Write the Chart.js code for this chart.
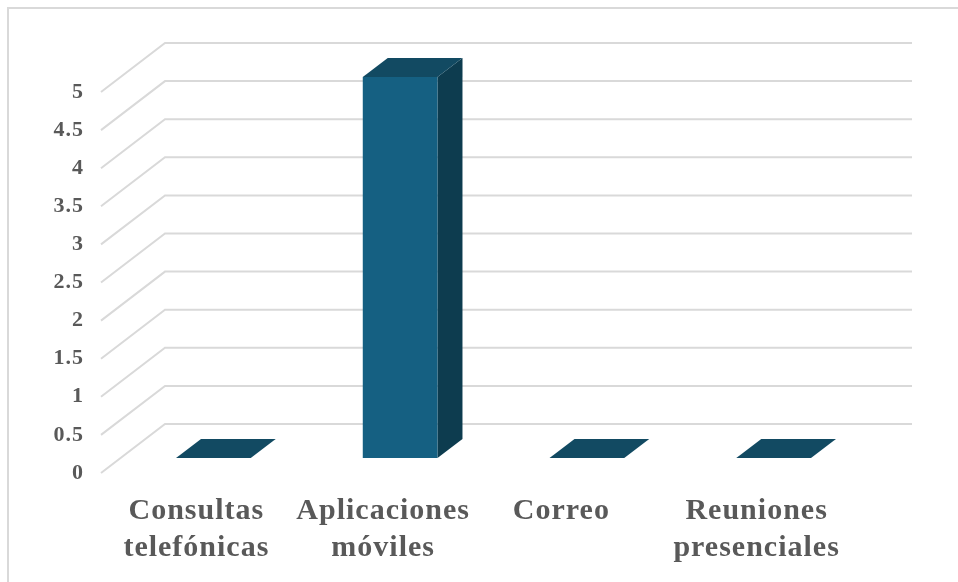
<!DOCTYPE html>
<html><head><meta charset="utf-8">
<script src="https://cdn.jsdelivr.net/npm/chart.js@4"></script>
<style>html,body{margin:0;padding:0;background:#fff;overflow:hidden}
#wrap{position:relative;width:958px;height:582px}
#frame{position:absolute;left:7px;top:7px;right:0;bottom:0;border-left:2px solid #d9d9d9;border-top:2px solid #d9d9d9}
canvas{position:absolute;left:0;top:0}</style></head>
<body><div id="wrap"><div id="frame"></div><canvas id="c" width="958" height="582"></canvas></div>
<script>
const categories = [["Consultas","telefónicas"],["Aplicaciones","móviles"],["Correo  "],["Reuniones","presenciales"]];
const values = [0,5,0,0];
const seriesName = "Serie 1";
const tickStep = 0.5;
const yMax = 5;
const colors = {front:"#156082",top:"#124a62",side:"#0d3c4f",grid:"#d9d9d9",text:"#595959"};
const wallDepth = {dx:64,dy:-49};
const barOffset = {dx:19,dy:-15};
const barDepth = {dx:25,dy:-19};

const pseudo3d = {
  id:"pseudo3d",
  beforeDraw(chart){ chart.ctx.letterSpacing = "1px"; },
  beforeDatasetsDraw(chart){
    const {ctx,scales:{x,y}} = chart;
    ctx.save();
    ctx.strokeStyle = colors.grid; ctx.lineWidth = 2;
    for(let v=0;v<=yMax;v+=tickStep){
      const py = y.getPixelForValue(v);
      ctx.beginPath();
      ctx.moveTo(x.left,py);
      ctx.lineTo(x.left+wallDepth.dx,py+wallDepth.dy);
      ctx.lineTo(x.right+wallDepth.dx,py+wallDepth.dy);
      ctx.stroke();
    }
    ctx.translate(barOffset.dx,barOffset.dy);
    chart.getDatasetMeta(0).data.forEach(b=>{
      const {x:bx,y:by,base,width} = b.getProps(["x","y","base","width"],true);
      const l=bx-width/2,r=bx+width/2,d=barDepth;
      ctx.fillStyle = colors.side;
      ctx.beginPath();ctx.moveTo(r,by);ctx.lineTo(r+d.dx,by+d.dy);ctx.lineTo(r+d.dx,base+d.dy);ctx.lineTo(r,base);ctx.closePath();ctx.fill();
      ctx.fillStyle = colors.top;
      ctx.beginPath();ctx.moveTo(l,by);ctx.lineTo(l+d.dx,by+d.dy);ctx.lineTo(r+d.dx,by+d.dy);ctx.lineTo(r,by);ctx.closePath();ctx.fill();
    });
  },
  afterDatasetsDraw(chart){ chart.ctx.restore(); }
};

new Chart(document.getElementById("c"),{
  type:"bar",
  data:{labels:categories,datasets:[{label:seriesName,data:values,backgroundColor:colors.front,borderWidth:0,clip:false,barPercentage:0.4,categoryPercentage:1}]},
  plugins:[pseudo3d],
  options:{
    responsive:false,animation:false,devicePixelRatio:1,
    layout:{padding:{top:92,right:110,left:0,bottom:0}},
    plugins:{legend:{display:false},tooltip:{enabled:false},title:{display:false}},
    scales:{
      x:{grid:{display:false},border:{display:false},
         afterFit(s){s.height=582-473;},
         ticks:{color:colors.text,padding:12,labelOffset:2,maxRotation:0,autoSkip:false,font:{family:"'Liberation Serif'",weight:"bold",size:30,lineHeight:1.23}}},
      y:{min:0,max:yMax,grid:{display:false},border:{display:false},
         afterFit(s){s.width=101;},
         ticks:{stepSize:tickStep,color:colors.text,padding:9,callback:v=>String(v),font:{family:"'Liberation Serif'",weight:"bold",size:22}}}
    }
  }
});
</script></body></html>
